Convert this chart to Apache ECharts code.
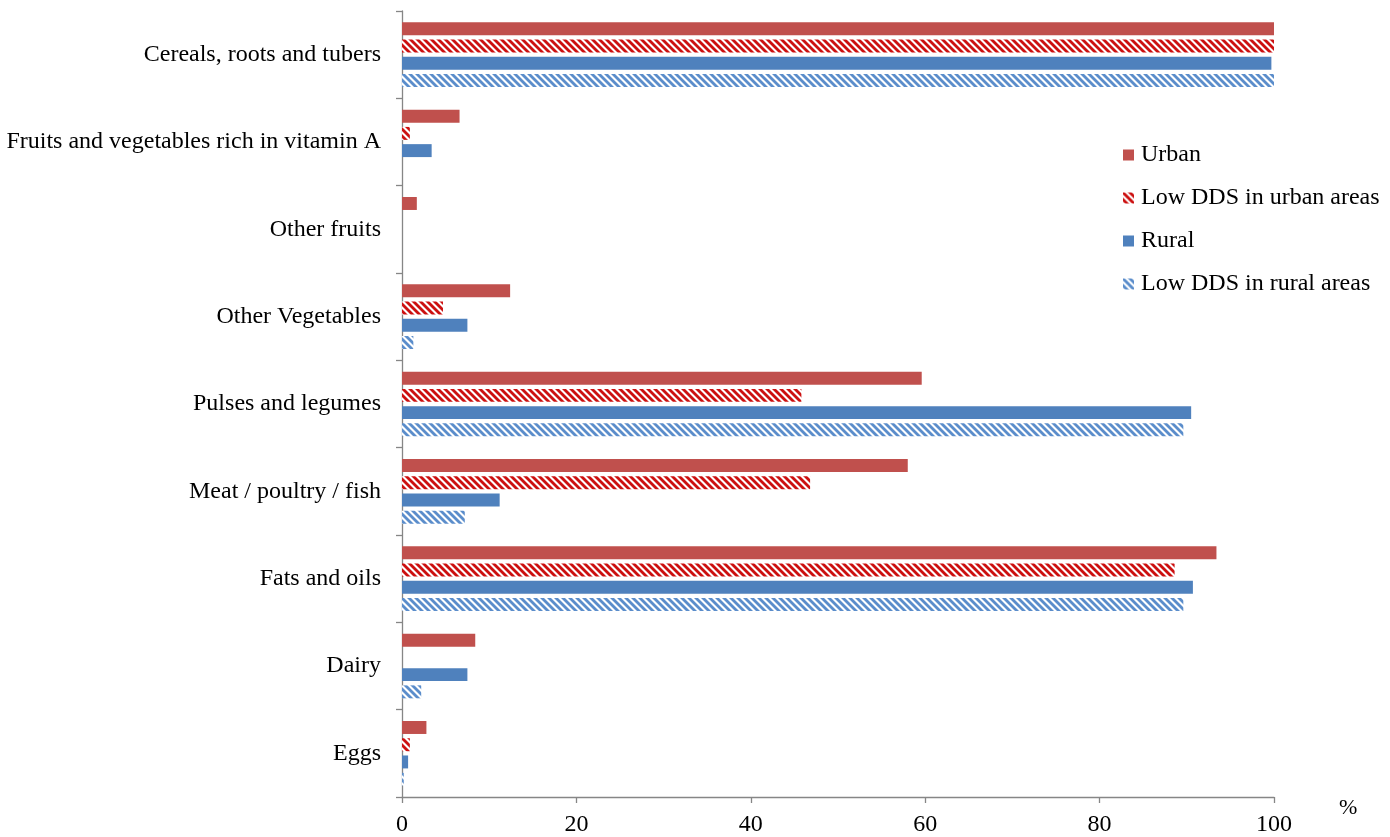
<!DOCTYPE html>
<html>
<head>
<meta charset="utf-8">
<script src="https://cdn.jsdelivr.net/npm/echarts@6/dist/echarts.min.js"></script>
<style>html,body{margin:0;padding:0;background:#fff;}#c{width:1390px;height:837px;}</style>
</head>
<body>
<div id="c"></div>
<script>
const categories = ["Cereals, roots and tubers", "Fruits and vegetables rich in vitamin A", "Other fruits", "Other Vegetables", "Pulses and legumes", "Meat / poultry / fish", "Fats and oils", "Dairy", "Eggs"];
const seriesNames = ["Urban", "Low DDS in urban areas", "Rural", "Low DDS in rural areas"];
const urban = [100, 6.6, 1.7, 12.4, 59.6, 58.0, 93.4, 8.4, 2.8];
const lowUrban = [100, 0.9, 0, 4.7, 45.8, 46.8, 88.6, 0, 0.9];
const rural = [99.7, 3.4, 0, 7.5, 90.5, 11.2, 90.7, 7.5, 0.7];
const lowRural = [100, 0, 0, 1.3, 89.6, 7.2, 89.6, 2.2, 0.2];
const xTicks = [0, 20, 40, 60, 80, 100];

function stripe(color) {
  const s = 7;
  const cv = document.createElement('canvas');
  cv.width = s; cv.height = s;
  const ctx = cv.getContext('2d');
  ctx.fillStyle = '#ffffff';
  ctx.fillRect(0, 0, s, s);
  ctx.strokeStyle = color;
  ctx.lineWidth = 2.8;
  for (let k = -1; k <= 1; k++) {
    ctx.beginPath();
    ctx.moveTo(k * s - 1, -1);
    ctx.lineTo(k * s + s + 1, s + 1);
    ctx.stroke();
  }
  return { image: cv, repeat: 'repeat' };
}

const font = 'Liberation Serif';
const chart = echarts.init(document.getElementById('c'));
const colors = ['#C0504D', stripe('#CC1010'), '#4F81BD', stripe('#5B8DCB')];
const datasets = [urban, lowUrban, rural, lowRural];

chart.setOption({
  animation: false,
  backgroundColor: '#ffffff',
  grid: { left: 402, right: 116, top: 11, bottom: 39, containLabel: false },
  legend: {
    orient: 'vertical',
    left: 1118, top: 138,
    itemWidth: 11, itemHeight: 11, itemGap: 19,
    icon: 'rect',
    textStyle: { fontFamily: font, fontSize: 24, color: '#000', padding: [0, 0, 0, 2] },
    data: seriesNames
  },
  xAxis: {
    type: 'value', min: 0, max: 100, interval: 20,
    name: '%', nameLocation: 'end', nameGap: 65,
    nameTextStyle: { fontFamily: font, fontSize: 22, color: '#000', verticalAlign: 'top', align: 'left', padding: [0, 0, 0, 0] },
    axisLine: { show: true, lineStyle: { color: '#868686', width: 1.3 } },
    axisTick: { show: true, length: 6, lineStyle: { color: '#868686', width: 1.3 } },
    splitLine: { show: false },
    axisLabel: { fontFamily: font, fontSize: 24, color: '#000', margin: 16,
      formatter: v => xTicks.includes(v) ? String(v) : '' }
  },
  yAxis: {
    type: 'category', data: categories, inverse: true,
    axisLine: { show: true, lineStyle: { color: '#868686', width: 1.3 } },
    axisTick: { show: true, length: 6, lineStyle: { color: '#868686', width: 1.3 } },
    axisLabel: { fontFamily: font, fontSize: 24, color: '#000', margin: 21 }
  },
  series: datasets.map((d, i) => ({
    name: seriesNames[i],
    type: 'bar',
    data: d,
    barCategoryGap: '26%',
    barGap: '33%',
    itemStyle: { color: colors[i] }
  }))
});
</script>
</body>
</html>
